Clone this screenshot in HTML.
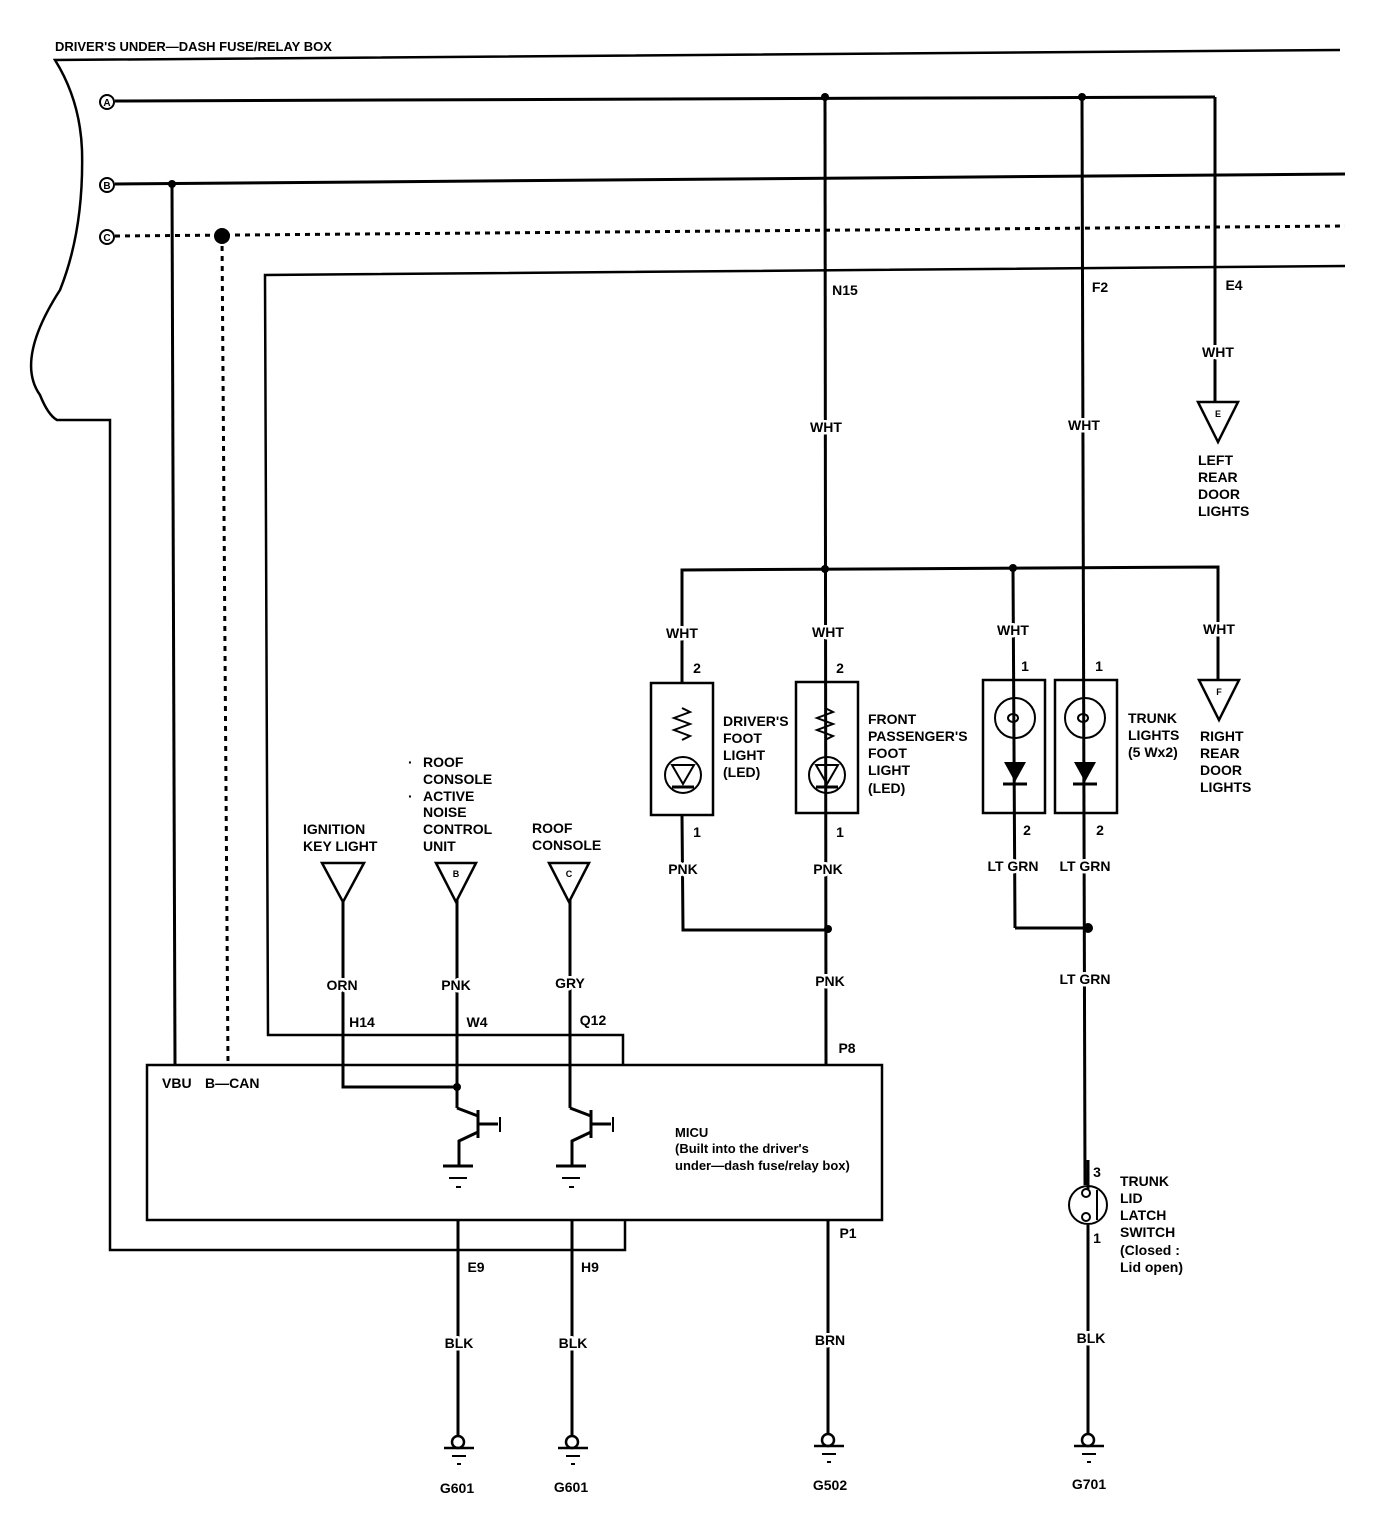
<!DOCTYPE html>
<html><head><meta charset="utf-8"><style>
html,body{margin:0;padding:0;background:#fff;}
svg text{font-family:"Liberation Sans Narrow","Liberation Sans",sans-serif;font-weight:bold;font-size:14px;fill:#000;}
.w text{stroke:#fff;stroke-width:5px;paint-order:stroke;stroke-linejoin:round;}
</style></head><body>
<svg width="1392" height="1524" viewBox="0 0 1392 1524" xmlns="http://www.w3.org/2000/svg">
<g fill="none" stroke="#000" stroke-width="3">
<path d="M1340,50 L55,60 Q80,100 82,150 Q84,230 60,290 Q15,360 40,395 Q48,415 57,420 L110,420 L110,1250 L625,1250 L625,1220" stroke-width="2.5"/>
<line x1="115" y1="101" x2="1215" y2="97"/>
<polyline points="1215,97 1215,402"/>
<line x1="115" y1="184" x2="1345" y2="174"/>
<line x1="172" y1="184" x2="175" y2="1065"/>
<line x1="115" y1="236" x2="1345" y2="226" stroke-dasharray="5,5"/>
<line x1="222" y1="236" x2="228" y2="1065" stroke-dasharray="5,5"/>
<polyline points="1345,266 265,275 268,1035 623,1035 623,1065" stroke-width="2.5"/>
<line x1="825" y1="97" x2="826" y2="1065"/>
<line x1="1082" y1="97" x2="1085" y2="1185"/>
<polyline points="682,683 682,570 1218,567 1218,680"/>
<line x1="1013" y1="568" x2="1015" y2="928"/>
<polyline points="1015,928 1088,928"/>
<polyline points="682,815 683,930 828,930"/>
<line x1="1088" y1="1225" x2="1088" y2="1440"/>
<rect x="651" y="683" width="62" height="132" stroke-width="2.5"/>
<rect x="796" y="682" width="62" height="131" stroke-width="2.5"/>
<rect x="983" y="680" width="62" height="133" stroke-width="2.5"/>
<rect x="1055" y="680" width="62" height="133" stroke-width="2.5"/>
<rect x="147" y="1065" width="735" height="155" stroke-width="2.5"/>
<polyline points="343,900 343,1087 457,1087"/>
<line x1="457" y1="900" x2="457" y2="1108"/>
<line x1="570" y1="900" x2="570" y2="1108"/>
<line x1="458" y1="1220" x2="458" y2="1440"/>
<line x1="572" y1="1220" x2="572" y2="1440"/>
<line x1="828" y1="1220" x2="828" y2="1440"/>
</g>
<g fill="none" stroke="#000" stroke-width="2">
<polyline points="682,708 690,712 674,718 690,724 674,730 690,736 682,740"/>
<polyline points="825,708 833,712 817,718 833,724 817,730 833,736 825,740"/>
<circle cx="683" cy="775" r="18"/>
<circle cx="827" cy="775" r="18"/>
<polygon points="672,765 694,765 683,784"/>
<polygon points="816,765 838,765 827,784"/>
<circle cx="1015" cy="718" r="20"/>
<circle cx="1085" cy="718" r="20"/>
<ellipse cx="1013" cy="718" rx="5" ry="4"/>
<ellipse cx="1083" cy="718" rx="5" ry="4"/>
<circle cx="1088" cy="1205" r="19"/>
</g>
<g stroke="#000" stroke-width="3">
<line x1="672" y1="787" x2="694" y2="787"/>
<line x1="816" y1="787" x2="838" y2="787"/>
<line x1="1003" y1="784" x2="1027" y2="784"/>
<line x1="1073" y1="784" x2="1097" y2="784"/>
</g>
<polygon points="1004,762 1026,762 1015,782" fill="#000"/>
<polygon points="1074,762 1096,762 1085,782" fill="#000"/>
<g fill="#fff" stroke="#000" stroke-width="2">
<circle cx="1086" cy="1193" r="4"/><circle cx="1086" cy="1217" r="4"/>
</g>
<line x1="1097" y1="1190" x2="1097" y2="1220" stroke="#000" stroke-width="2"/>
<line x1="1088" y1="1160" x2="1088" y2="1189" stroke="#000" stroke-width="3"/>
<g fill="#fff" stroke="#000" stroke-width="2.5">
<polygon points="1198,402 1238,402 1218,442"/>
<polygon points="1199,680 1239,680 1219,720"/>
<polygon points="322,863 364,863 343,902"/>
<polygon points="436,863 476,863 456,902"/>
<polygon points="549,863 589,863 569,902"/>
</g>
<g text-anchor="middle">
<text x="1218" y="417" style="font-size:9px">E</text>
<text x="1219" y="695" style="font-size:9px">F</text>
<text x="456" y="877" style="font-size:9px">B</text>
<text x="569" y="877" style="font-size:9px">C</text>
</g>
<g fill="none" stroke="#000" stroke-width="3">
<polyline points="457,1108 478,1116"/>
<line x1="478" y1="1110" x2="478" y2="1138"/>
<line x1="478" y1="1124" x2="498" y2="1124"/>
<line x1="500" y1="1117" x2="500" y2="1132" stroke-width="2"/>
<polyline points="478,1132 459,1141 459,1166"/>
<line x1="443" y1="1166" x2="473" y2="1166"/>
<line x1="449" y1="1178" x2="467" y2="1178" stroke-width="2"/>
<line x1="456" y1="1187" x2="461" y2="1187" stroke-width="2"/>
<polyline points="570,1108 591,1116"/>
<line x1="591" y1="1110" x2="591" y2="1138"/>
<line x1="591" y1="1124" x2="611" y2="1124"/>
<line x1="613" y1="1117" x2="613" y2="1132" stroke-width="2"/>
<polyline points="591,1132 572,1141 572,1166"/>
<line x1="556" y1="1166" x2="586" y2="1166"/>
<line x1="562" y1="1178" x2="580" y2="1178" stroke-width="2"/>
<line x1="569" y1="1187" x2="574" y2="1187" stroke-width="2"/>
</g>
<g fill="#fff" stroke="#000" stroke-width="2.5">
<circle cx="458" cy="1442" r="6"/><line x1="444" y1="1448" x2="474" y2="1448"/>
<circle cx="572" cy="1442" r="6"/><line x1="558" y1="1448" x2="588" y2="1448"/>
<circle cx="828" cy="1440" r="6"/><line x1="814" y1="1446" x2="844" y2="1446"/>
<circle cx="1088" cy="1440" r="6"/><line x1="1074" y1="1446" x2="1104" y2="1446"/>
</g>
<g stroke="#000" stroke-width="2">
<line x1="452" y1="1456" x2="466" y2="1456"/><line x1="457" y1="1464" x2="461" y2="1464"/>
<line x1="566" y1="1456" x2="580" y2="1456"/><line x1="571" y1="1464" x2="575" y2="1464"/>
<line x1="822" y1="1454" x2="836" y2="1454"/><line x1="827" y1="1462" x2="831" y2="1462"/>
<line x1="1082" y1="1454" x2="1096" y2="1454"/><line x1="1087" y1="1462" x2="1091" y2="1462"/>
</g>
<g fill="#000">
<circle cx="825" cy="97" r="4"/><circle cx="1082" cy="97" r="4"/>
<circle cx="172" cy="184" r="4"/><circle cx="222" cy="236" r="8"/>
<circle cx="825" cy="569" r="4"/><circle cx="1013" cy="568" r="4"/>
<circle cx="828" cy="929" r="4"/><circle cx="1088" cy="928" r="5"/>
<circle cx="457" cy="1087" r="4"/>
</g>
<g fill="#fff" stroke="#000" stroke-width="2">
<circle cx="107" cy="102" r="7"/><circle cx="107" cy="185" r="7"/><circle cx="107" cy="237" r="7"/>
</g>
<g text-anchor="middle">
<text x="107" y="106" style="font-size:10px">A</text>
<text x="107" y="189" style="font-size:10px">B</text>
<text x="107" y="241" style="font-size:10px">C</text>
</g>
<text x="55" y="51" style="font-size:13px">DRIVER'S UNDER—DASH FUSE/RELAY BOX</text>
<g text-anchor="middle" class="w">
<text x="845" y="295">N15</text><text x="1100" y="292">F2</text><text x="1234" y="290">E4</text>
<text x="826" y="432">WHT</text><text x="1084" y="430">WHT</text><text x="1218" y="357">WHT</text>
<text x="682" y="638">WHT</text><text x="828" y="637">WHT</text><text x="1013" y="635">WHT</text><text x="1219" y="634">WHT</text>
<text x="697" y="673">2</text><text x="840" y="673">2</text><text x="1025" y="671">1</text><text x="1099" y="671">1</text>
<text x="697" y="837">1</text><text x="840" y="837">1</text><text x="1027" y="835">2</text><text x="1100" y="835">2</text>
<text x="683" y="874">PNK</text><text x="828" y="874">PNK</text><text x="1013" y="871">LT GRN</text><text x="1085" y="871">LT GRN</text>
<text x="830" y="986">PNK</text><text x="1085" y="984">LT GRN</text>
<text x="342" y="990">ORN</text><text x="456" y="990">PNK</text><text x="570" y="988">GRY</text>
<text x="362" y="1027">H14</text><text x="477" y="1027">W4</text><text x="593" y="1025">Q12</text>
<text x="847" y="1053">P8</text>
<text x="476" y="1272">E9</text><text x="590" y="1272">H9</text><text x="848" y="1238">P1</text>
<text x="459" y="1348">BLK</text><text x="573" y="1348">BLK</text><text x="830" y="1345">BRN</text><text x="1091" y="1343">BLK</text>
<text x="457" y="1493">G601</text><text x="571" y="1492">G601</text><text x="830" y="1490">G502</text><text x="1089" y="1489">G701</text>
<text x="1097" y="1177">3</text><text x="1097" y="1243">1</text>
</g>
<g>
<text x="1198" y="465">LEFT</text><text x="1198" y="482">REAR</text><text x="1198" y="499">DOOR</text><text x="1198" y="516">LIGHTS</text>
<text x="1200" y="741">RIGHT</text><text x="1200" y="758">REAR</text><text x="1200" y="775">DOOR</text><text x="1200" y="792">LIGHTS</text>
<text x="723" y="726">DRIVER'S</text><text x="723" y="743">FOOT</text><text x="723" y="760">LIGHT</text><text x="723" y="777">(LED)</text>
<text x="868" y="724">FRONT</text><text x="868" y="741">PASSENGER'S</text><text x="868" y="758">FOOT</text><text x="868" y="775">LIGHT</text><text x="868" y="793">(LED)</text>
<text x="1128" y="723">TRUNK</text><text x="1128" y="740">LIGHTS</text><text x="1128" y="757">(5 Wx2)</text>
<text x="1120" y="1186">TRUNK</text><text x="1120" y="1203">LID</text><text x="1120" y="1220">LATCH</text><text x="1120" y="1237">SWITCH</text><text x="1120" y="1255">(Closed :</text><text x="1120" y="1272">Lid open)</text>
<text x="303" y="834">IGNITION</text><text x="303" y="851">KEY LIGHT</text>
<text x="408" y="767">·</text><text x="408" y="801">·</text>
<text x="423" y="767">ROOF</text><text x="423" y="784">CONSOLE</text><text x="423" y="801">ACTIVE</text><text x="423" y="817">NOISE</text><text x="423" y="834">CONTROL</text><text x="423" y="851">UNIT</text>
<text x="532" y="833">ROOF</text><text x="532" y="850">CONSOLE</text>
<text x="162" y="1088">VBU</text><text x="205" y="1088">B—CAN</text>
<text x="675" y="1137" style="font-size:13px">MICU</text>
<text x="675" y="1153" style="font-size:13px">(Built into the driver's</text>
<text x="675" y="1170" style="font-size:13px">under—dash fuse/relay box)</text>
</g>
</svg>
</body></html>
